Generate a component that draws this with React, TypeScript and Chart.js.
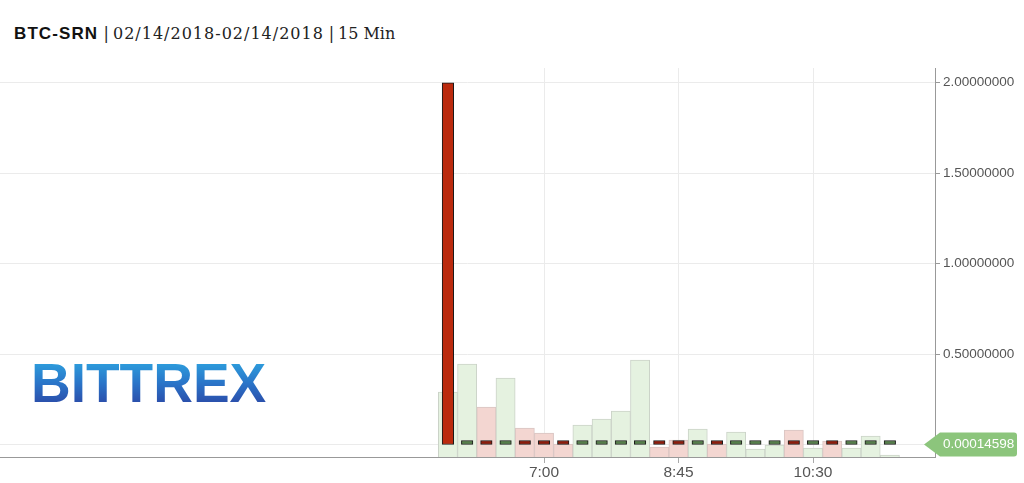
import React, { useEffect, useRef } from 'react';
import { Chart, registerables } from 'chart.js';

Chart.register(...registerables);

// ---- data ----
const pair = 'BTC-SRN';
const dateRange = '02/14/2018-02/14/2018';
const intervalLabel = '15 Min';
const logoText = 'BITTREX';

const times = [
  '5:45', '6:00', '6:15', '6:30', '6:45', '7:00', '7:15', '7:30', '7:45', '8:00', '8:15', '8:30',
  '8:45', '9:00', '9:15', '9:30', '9:45', '10:00', '10:15', '10:30', '10:45', '11:00', '11:15', '11:30',
];
const opens = [
  2.0, 0.000140, 0.000146, 0.000141, 0.000147, 0.000143, 0.000140, 0.000138, 0.000142, 0.000145, 0.000148, 0.000152,
  0.000149, 0.000146, 0.000150, 0.000147, 0.000149, 0.000150, 0.000151, 0.000146, 0.000148, 0.000144, 0.000145, 0.0001458,
];
const closes = [
  0.000140, 0.000146, 0.000141, 0.000147, 0.000143, 0.000140, 0.000138, 0.000142, 0.000145, 0.000148, 0.000152, 0.000149,
  0.000146, 0.000150, 0.000147, 0.000149, 0.000150, 0.000151, 0.000146, 0.000148, 0.000144, 0.000145, 0.0001458, 0.00014598,
];
const volumes = [
  0.65, 0.93, 0.50, 0.79, 0.29, 0.24, 0.13, 0.32, 0.38, 0.46, 0.97, 0.10,
  0.17, 0.28, 0.13, 0.25, 0.08, 0.12, 0.27, 0.09, 0.16, 0.09, 0.21, 0.02,
];
const volumeUp = [
  true, true, false, true, false, false, false, true, true, true, true, false,
  false, true, false, true, true, true, false, true, false, true, true, true,
];
const xTickLabels = ['7:00', '8:45', '10:30'];
const yTickValues = [0, 0.5, 1, 1.5, 2];
const lastPrice = 0.00014598;

const toMin = (t: string) => {
  const [h, m] = t.split(':').map(Number);
  return h * 60 + m;
};

const FONT = '"Liberation Sans", Arial, sans-serif';

const priceTag = {
  id: 'priceTag',
  afterDraw(chart: any) {
    const { ctx, chartArea, scales } = chart;
    const y = scales.y.getPixelForValue(lastPrice);
    const r = chartArea.right;
    const h = 12;
    ctx.save();
    ctx.fillStyle = '#8cc57c';
    ctx.beginPath();
    ctx.moveTo(r - 11, y);
    ctx.lineTo(r + 5, y - h);
    ctx.lineTo(r + 79, y - h);
    ctx.quadraticCurveTo(r + 82, y - h, r + 82, y - h + 3);
    ctx.lineTo(r + 82, y + h - 3);
    ctx.quadraticCurveTo(r + 82, y + h, r + 79, y + h);
    ctx.lineTo(r + 5, y + h);
    ctx.closePath();
    ctx.fill();
    ctx.fillStyle = '#ffffff';
    ctx.font = '13.5px ' + FONT;
    ctx.textBaseline = 'middle';
    ctx.textAlign = 'left';
    ctx.fillText(lastPrice.toFixed(8), r + 8, y);
    ctx.restore();
  },
};

export default function App() {
  const ref = useRef<HTMLCanvasElement>(null);

  useEffect(() => {
    if (!ref.current) return;
    const xs = times.map(toMin);
    const isBig = (i: number) => Math.abs(opens[i] - closes[i]) > 0.01;
    const candleColors = opens.map((o, i) => {
      const down = closes[i] < o;
      if (isBig(i)) return down ? '#bb2a0e' : '#3f8a3a';
      return down ? '#8e1d0c' : '#567f4b';
    });

    const chart = new Chart(ref.current, {
      type: 'bar',
      data: {
        datasets: [
          {
            label: 'Price',
            data: xs.map((x, i) => ({ x, y: [opens[i], closes[i]] })) as any,
            yAxisID: 'y',
            backgroundColor: candleColors,
            borderColor: '#1a1a1a',
            borderWidth: 1,
            borderSkipped: false,
            barThickness: 11.5,
            minBarLength: 4,
            grouped: false,
            order: 1,
          } as any,
          {
            label: 'Volume',
            data: xs.map((x, i) => ({ x, y: volumes[i] })) as any,
            yAxisID: 'yVol',
            backgroundColor: volumeUp.map((u) => (u ? '#e5f2e0' : '#f3d6d1')),
            borderColor: volumeUp.map((u) => (u ? '#cbd3c8' : '#d9c5c2')),
            borderWidth: 1,
            borderSkipped: 'start',
            barPercentage: 1,
            categoryPercentage: 1,
            grouped: false,
            order: 2,
          } as any,
        ],
      },
      options: {
        animation: false,
        responsive: false,
        maintainAspectRatio: false,
        layout: { padding: { top: 68, left: 0, right: 0, bottom: 0 } },
        plugins: { legend: { display: false }, tooltip: { enabled: false }, title: { display: false } },
        scales: {
          x: {
            type: 'linear',
            offset: false,
            min: -4.69,
            max: 725.24,
            afterBuildTicks: (s: any) => {
              s.ticks = xTickLabels.map((t) => ({ value: toMin(t) }));
            },
            afterFit: (s: any) => {
              s.height = 26;
            },
            ticks: {
              callback: (_v: any, i: number) => xTickLabels[i],
              font: { family: FONT, size: 15.5 },
              color: '#555',
              padding: 0,
              maxRotation: 0,
              autoSkip: false,
            },
            grid: { offset: false, color: '#ebebeb', tickLength: 6, tickColor: '#aaaaaa', drawTicks: true },
            border: { color: '#999999', width: 1 },
          },
          y: {
            position: 'right',
            min: -0.0691,
            max: 2.0813,
            afterBuildTicks: (s: any) => {
              s.ticks = yTickValues.map((v) => ({ value: v }));
            },
            afterFit: (s: any) => {
              s.width = 89;
            },
            ticks: {
              callback: (v: any) => (v === 0 ? '' : Number(v).toFixed(8)),
              font: { family: FONT, size: 13.5 },
              color: '#555',
              padding: 3,
            },
            grid: { color: '#ebebeb', tickLength: 5, tickColor: '#999999', drawTicks: true },
            border: { color: '#999999', width: 1 },
          },
          yVol: {
            display: false,
            min: 0,
            max: 3.89,
          },
        } as any,
      },
      plugins: [priceTag],
    });
    return () => chart.destroy();
  }, []);

  return (
    <div style={{ position: 'absolute', left: 0, top: 0, width: 1024, height: 483, background: '#fff', overflow: 'hidden' }}>
      <div
        style={{
          position: 'absolute',
          left: 14,
          top: 22,
          whiteSpace: 'nowrap',
          lineHeight: '24px',
          fontFamily: '"DejaVu Serif", serif',
          fontSize: 16,
          color: '#222',
        }}
      >
        <span style={{ display: 'inline-block', width: 89.5, fontFamily: FONT, fontWeight: 'bold', fontSize: 17, letterSpacing: 1.1, color: '#111' }}>
          {pair}
        </span>
        <span style={{ display: 'inline-block', width: 9.5 }}>|</span>
        <span style={{ display: 'inline-block', width: 215.7, letterSpacing: 1.0 }}>{dateRange}</span>
        <span style={{ display: 'inline-block', width: 9.3 }}>|</span>
        <span>{intervalLabel}</span>
      </div>
      <div
        style={{
          position: 'absolute',
          left: 31,
          top: 355.6,
          fontFamily: FONT,
          fontWeight: 'bold',
          fontSize: 55,
          lineHeight: '55px',
          whiteSpace: 'nowrap',
          backgroundImage: 'linear-gradient(to bottom, #2eaae3 0%, #2a74c8 50%, #2b3f9f 100%)',
          WebkitBackgroundClip: 'text',
          backgroundClip: 'text',
          WebkitTextFillColor: 'transparent',
          color: 'transparent',
        }}
      >
        {logoText}
      </div>
      <canvas ref={ref} width={1024} height={483} style={{ position: 'absolute', left: 0, top: 0, width: 1024, height: 483 }} />
    </div>
  );
}
